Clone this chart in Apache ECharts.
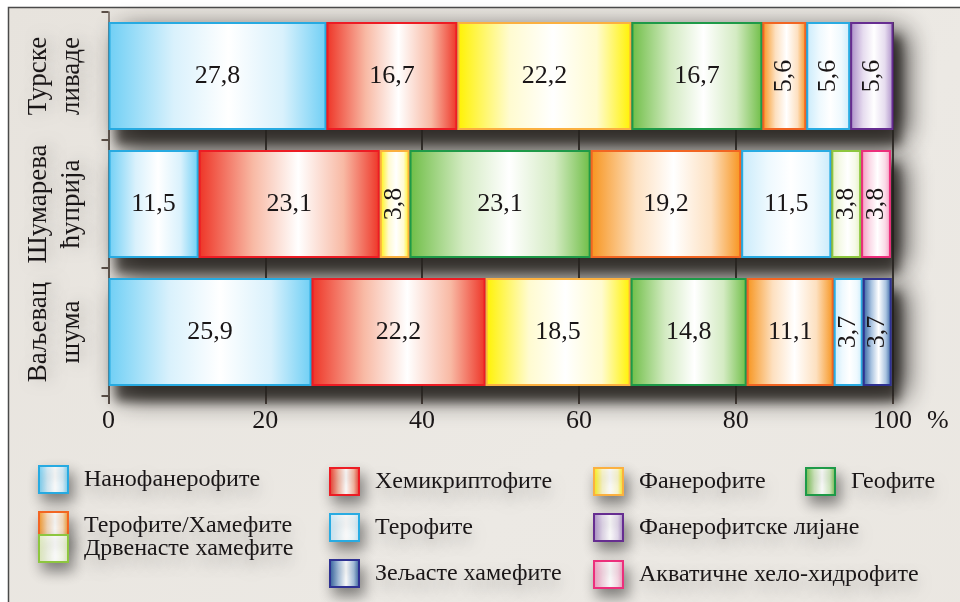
<!DOCTYPE html>
<html>
<head>
<meta charset="utf-8">
<script src="https://cdn.jsdelivr.net/npm/echarts@6/dist/echarts.min.js"></script>
<style>
html,body{margin:0;padding:0;background:#fff;}
#chart{width:960px;height:602px;}
</style>
</head>
<body>
<div id="chart"></div>
<script>
// Categories (top to bottom)
const sites = ['Турске\nливаде', 'Шумарева\nћуприја', 'Ваљевац\nшума'];

// Life-form groups (stack order, left to right)
const lifeForms = [
  'Нанофанерофите',
  'Хемикриптофите',
  'Фанерофите',
  'Геофите',
  'Терофите/Хамефите',
  'Терофите',
  'Фанерофитске лијане',
  'Дрвенасте хамефите',
  'Акватичне хело-хидрофите',
  'Зељасте хамефите'
];

// Percentages per site, in lifeForms order (null = absent)
const turskeLivade     = [27.8, 16.7, 22.2, 16.7,  5.6,  5.6, 5.6, null, null, null];
const sumarevaCuprija  = [11.5, 23.1,  3.8, 23.1, 19.2, 11.5, null, 3.8, 3.8, null];
const valjevacSuma     = [25.9, 22.2, 18.5, 14.8, 11.1,  3.7, null, null, null, 3.7];

const xTicks = [0, 20, 40, 60, 80, 100];
const unitLabel = '%';

// Styles
const edgeColors   = ['#6fcff5', '#ee3426', '#fff200', '#6fbe46', '#f7941d', '#c9ebfb', '#a98bc6', '#e2efbd', '#f49ac1', '#2a5b9c'];
const borderColors = ['#27aae1', '#ed1c24', '#fbb040', '#1e9a48', '#f26522', '#29abe2', '#662d91', '#8dc63f', '#ec2f7b', '#2e3192'];
const midColors    = ['#d9f1fc', '#f8b9a4', '#fffbd0', '#d4ebc3', '#fde0c0', '#eef9fe', '#e6dcef', '#f6fae9', '#fbdbe8', '#a9c3e0'];

const siteRows = [turskeLivade, sumarevaCuprija, valjevacSuma];
const FONT = '"Liberation Serif", "Times New Roman", serif';
const TXT = '#1a1617';

function grad(i) {
  return {
    type: 'linear', x: 0, y: 0, x2: 1, y2: 0,
    colorStops: [
      { offset: 0, color: edgeColors[i] },
      { offset: 0.3, color: midColors[i] },
      { offset: 0.55, color: '#ffffff' },
      { offset: 0.8, color: midColors[i] },
      { offset: 1, color: edgeColors[i] }
    ]
  };
}

const totals = siteRows.map(r => r.reduce((a, b) => a + (b || 0), 0));

const series = [];
// shadow carriers behind each whole bar (soft wide + tighter deep shadow)
[
  { blur: 26, ox: 12, oy: 10, c: 'rgba(20,18,16,0.95)' },
  { blur: 10, ox: 7, oy: 15, c: 'rgba(40,36,32,0.75)' }
].forEach((s, k) => {
  series.push({
    name: '__shadow' + k,
    type: 'bar',
    barWidth: 108,
    barGap: '-100%',
    z: 3,
    silent: true,
    data: totals,
    itemStyle: {
      color: '#6f6a64',
      shadowBlur: s.blur,
      shadowOffsetX: s.ox,
      shadowOffsetY: s.oy,
      shadowColor: s.c
    },
    label: { show: false }
  });
});

lifeForms.forEach((name, i) => {
  series.push({
    name: name,
    type: 'bar',
    stack: 'total',
    barWidth: 108,
    barGap: '-100%',
    z: 4,
    data: siteRows.map(r => {
      const v = r[i];
      if (v == null) return null;
      return { value: v, label: { rotate: v < 6 ? 90 : 0 } };
    }),
    itemStyle: {
      color: grad(i),
      borderColor: borderColors[i],
      borderWidth: 2
    },
    label: {
      show: true,
      position: 'inside',
      fontFamily: FONT,
      fontSize: 26,
      color: TXT,
      formatter: p => String(p.value).replace('.', ',')
    },
    emphasis: { disabled: true }
  });
});

// Legend layout: [name index, left, top]
const legendPos = [
  [0, 38, 465], [1, 329, 467], [2, 593, 467], [3, 805, 467],
  [4, 38, 511], [5, 329, 513], [6, 593, 513],
  [7, 38, 534],
  [9, 329, 559], [8, 593, 560]
];
const legends = legendPos.map(([idx, l, t]) => ({
  data: [lifeForms[idx]],
  left: l,
  top: t,
  padding: 0,
  icon: 'rect',
  itemWidth: 29,
  itemHeight: 27,
  selectedMode: false,
  itemStyle: {
    shadowBlur: 14,
    shadowOffsetX: 4,
    shadowOffsetY: 8,
    shadowColor: 'rgba(0,0,0,0.45)'
  },
  textStyle: {
    fontFamily: FONT,
    fontSize: 24,
    color: TXT,
    padding: [0, 0, 0, 11],
    textShadowColor: 'rgba(0,0,0,0.25)',
    textShadowBlur: 14,
    textShadowOffsetY: 8
  }
}));

const chart = echarts.init(document.getElementById('chart'), null, { renderer: 'canvas' });
chart.setOption({
  backgroundColor: '#ffffff',
  animation: false,
  graphic: [
    {
      type: 'rect',
      z: -10,
      shape: { x: 8.5, y: 7.5, width: 1000, height: 1000 },
      style: {
        fill: {
          type: 'linear', x: 0, y: 0, x2: 1, y2: 1,
          colorStops: [
            { offset: 0, color: '#e7e3dd' },
            { offset: 0.5, color: '#ece9e4' },
            { offset: 1, color: '#e9e5df' }
          ]
        },
        stroke: '#4a4a4a',
        lineWidth: 1.5
      },
      silent: true
    },
    {
      type: 'text',
      z: 5,
      x: 927,
      y: 421,
      style: {
        text: unitLabel,
        font: '26px ' + FONT,
        fill: TXT,
        verticalAlign: 'middle',
        align: 'left'
      },
      silent: true
    }
  ],
  grid: {
    left: 108.5,
    right: 67.5,
    top: 12,
    bottom: 206,
    show: false
  },
  xAxis: {
    type: 'value',
    min: xTicks[0],
    max: xTicks[xTicks.length - 1],
    interval: 20,
    axisLine: { show: false },
    axisTick: { show: true, length: 8, lineStyle: { color: '#5a4e47', width: 2 } },
    axisLabel: {
      fontFamily: FONT,
      fontSize: 26,
      color: TXT,
      margin: 12,
      formatter: v => xTicks.indexOf(v) >= 0 ? String(v) : ''
    },
    // gridlines start at the top edge of the first bar (skip the first 10px)
    splitLine: { show: true, lineStyle: { color: '#38322d', width: 1.8, type: [0, 10, 600, 0] } }
  },
  yAxis: {
    type: 'category',
    data: sites,
    inverse: true,
    axisLine: { show: true, lineStyle: { color: '#6e625a', width: 1.5 } },
    axisTick: { show: true, length: 7, lineStyle: { color: '#5a4e47', width: 2 } },
    axisLabel: {
      interval: 0,
      rotate: 90,
      margin: 20,
      fontFamily: FONT,
      fontSize: 27,
      lineHeight: 33,
      color: TXT,
      textShadowColor: 'rgba(0,0,0,0.2)',
      textShadowBlur: 14,
      textShadowOffsetX: 6
    }
  },
  legend: legends,
  series: series
});
</script>
</body>
</html>
